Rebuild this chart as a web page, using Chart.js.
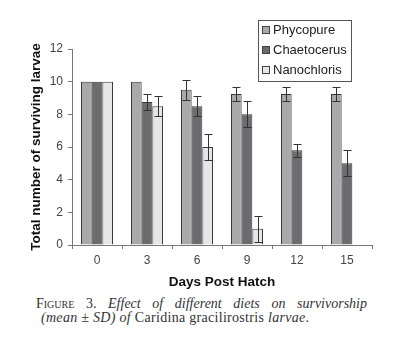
<!DOCTYPE html>
<html>
<head>
<meta charset="utf-8">
<script src="https://cdn.jsdelivr.net/npm/chart.js@4/dist/chart.umd.min.js"></script>
<style>
  html, body { margin: 0; padding: 0; background: #fff; }
  body { width: 398px; height: 350px; position: relative; overflow: hidden; }
  #wrap { position: absolute; left: 0; top: 0; width: 398px; height: 292px; }
  .cap {
    position: absolute; white-space: nowrap;
    font-family: "Liberation Serif", "Times New Roman", serif;
    font-size: 14px; line-height: 14px; color: #333;
  }
  #cap1 { left: 36px; top: 297px; width: 331px; text-align: justify; text-align-last: justify; white-space: normal; }
  #cap2 { left: 41px; top: 311px; letter-spacing: 0.3px; }
  .sc { font-variant: small-caps; }
</style>
</head>
<body>
<div id="wrap"><canvas id="c" width="398" height="292"></canvas></div>
<div class="cap" id="cap1"><span class="sc">Figure 3.</span> <i>Effect of different diets on survivorship</i></div>
<div class="cap" id="cap2"><i>(mean ± SD) of</i> Caridina gracilirostris <i>larvae</i>.</div>
<script>
const days = ['0', '3', '6', '9', '12', '15'];
const seriesNames = ['Phycopure', 'Chaetocerus', 'Nanochloris'];
const phycopure = [10, 10, 9.5, 9.25, 9.25, 9.25];
const phycopureSD = [0, 0, 0.6, 0.45, 0.45, 0.45];
const chaetocerus = [10, 8.75, 8.5, 8.0, 5.8, 5.0];
const chaetocerusSD = [0, 0.5, 0.6, 0.8, 0.4, 0.8];
const nanochloris = [10, 8.5, 6.0, 1.0, 0, 0];
const nanochlorisSD = [0, 0.6, 0.8, 0.8, 0, 0];
const yTicks = [0, 2, 4, 6, 8, 10, 12];

const fills = ['#a9a9a9', '#6c6c70', '#e6e6e6'];
const edge = '#3a3a3a';

const errorBars = {
  id: 'errorBars',
  afterDatasetsDraw(chart) {
    const ctx = chart.ctx;
    const y = chart.scales.y;
    ctx.save();
    ctx.strokeStyle = '#333';
    ctx.lineWidth = 1;
    chart.data.datasets.forEach((ds, di) => {
      const meta = chart.getDatasetMeta(di);
      ds.sd.forEach((s, i) => {
        if (!s) return;
        const v = ds.data[i];
        const bar = meta.data[i];
        const x = Math.round(bar.x) + 0.5;
        const yt = Math.round(y.getPixelForValue(v + s)) + 0.5;
        const yb = Math.round(y.getPixelForValue(v - s)) + 0.5;
        ctx.beginPath();
        ctx.moveTo(x, yt); ctx.lineTo(x, yb);
        ctx.moveTo(x - 4, yt); ctx.lineTo(x + 4, yt);
        ctx.moveTo(x - 4, yb); ctx.lineTo(x + 4, yb);
        ctx.stroke();
      });
    });
    ctx.restore();
  }
};

const boxLegend = {
  id: 'boxLegend',
  afterDraw(chart) {
    const ctx = chart.ctx;
    ctx.save();
    const bx = 258.5, by = 20.5, bw = 93, bh = 61;
    ctx.fillStyle = '#fff';
    ctx.fillRect(bx, by, bw, bh);
    ctx.strokeStyle = '#555';
    ctx.lineWidth = 1;
    ctx.strokeRect(bx, by, bw, bh);
    ctx.font = '13px "Liberation Sans", Arial, sans-serif';
    ctx.textBaseline = 'middle';
    chart.data.datasets.forEach((ds, i) => {
      const cy = 30 + i * 20;
      ctx.fillStyle = ds.backgroundColor;
      ctx.fillRect(262.5, cy - 3.5, 7, 7);
      ctx.strokeStyle = '#444';
      ctx.strokeRect(262.5, cy - 3.5, 7, 7);
      ctx.fillStyle = '#222';
      ctx.fillText(ds.label, 273, cy);
    });
    ctx.restore();
  }
};

const mk = (i, data, sd) => ({
  label: seriesNames[i], data, sd,
  backgroundColor: fills[i], borderColor: edge, borderWidth: 1,
  categoryPercentage: 0.64, barPercentage: 1.0
});

new Chart(document.getElementById('c'), {
  type: 'bar',
  data: {
    labels: days,
    datasets: [mk(0, phycopure, phycopureSD), mk(1, chaetocerus, chaetocerusSD), mk(2, nanochloris, nanochlorisSD)]
  },
  options: {
    responsive: false,
    animation: false,
    devicePixelRatio: 1,
    layout: { padding: { top: 49, right: 26, bottom: 0, left: 0 } },
    plugins: { legend: { display: false }, tooltip: { enabled: false } },
    scales: {
      x: {
        offset: true,
        grid: { display: true, drawOnChartArea: false, offset: true, tickLength: 4, color: '#777' },
        border: { color: '#777' },
        ticks: { color: '#444', font: { size: 12, family: '"Liberation Sans", Arial, sans-serif' }, padding: 4 },
        title: { display: true, text: 'Days Post Hatch', color: '#111',
                 font: { size: 13.5, weight: 'bold', family: '"Liberation Sans", Arial, sans-serif' },
                 padding: { top: 2, bottom: 2 } },
        afterFit(s) { s.height = 47; }
      },
      y: {
        min: 0, max: 12,
        afterBuildTicks(s) { s.ticks = yTicks.map(v => ({ value: v })); },
        grid: { display: true, drawOnChartArea: false, tickLength: 4, color: '#777' },
        border: { color: '#777' },
        ticks: { color: '#444', font: { size: 12, family: '"Liberation Sans", Arial, sans-serif' }, padding: 5 },
        title: { display: true, text: 'Total number of surviving larvae', color: '#111',
                 font: { size: 13.5, weight: 'bold', family: '"Liberation Sans", Arial, sans-serif' },
                 padding: { top: 28, bottom: 0 } },
        afterFit(s) { s.width = 72; }
      }
    }
  },
  plugins: [errorBars, boxLegend]
});
</script>
</body>
</html>
